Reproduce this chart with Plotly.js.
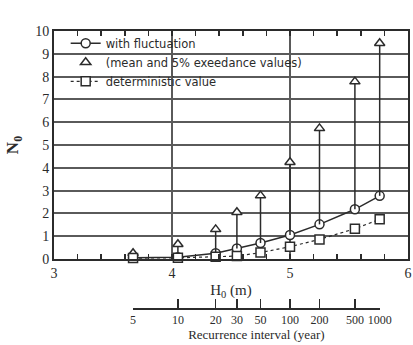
<!DOCTYPE html>
<html><head><meta charset="utf-8">
<script src="https://cdn.plot.ly/plotly-3.0.1.min.js"></script>
<style>html,body{margin:0;padding:0;background:#fff}#c{width:413px;height:345px}</style>
</head><body><div id="c"></div>
<script>
// Data
const H0 = [3.67, 4.05, 4.37, 4.55, 4.75, 5.00, 5.25, 5.55, 5.76];
const recurrence = ["5", "10", "20", "30", "50", "100", "200", "500", "1000"];
const withFluctuation = [0.06, 0.08, 0.25, 0.46, 0.70, 1.05, 1.52, 2.18, 2.77];
const exceedance5 = [0.25, 0.65, 1.30, 2.05, 2.78, 4.24, 5.73, 7.78, 9.46];
const deterministic = [0.04, 0.05, 0.10, 0.13, 0.28, 0.54, 0.86, 1.33, 1.74];
const yTicks = [0,1,2,3,4,5,6,7,8,9,10];
const xTicks = [3,4,5,6];
const xMinorTicks = [3.2,3.4,3.6,3.8,4.2,4.4,4.6,4.8,5.2,5.4,5.6,5.8];

const ink = '#2b2b2b';
const grid = '#5a5a5a';
const serif = 'Liberation Serif, Times New Roman, serif';
const sans = 'DejaVu Sans, Liberation Sans, Arial, sans-serif';

const stemMinus = exceedance5.map((v,i)=>v - withFluctuation[i]);
const xr = [3,6];
const d0 = (H0[0]-xr[0])/(xr[1]-xr[0]);
const d1 = (H0[H0.length-1]-xr[0])/(xr[1]-xr[0]);

// main axis carries major labels plus minor tick marks (blank labels)
const allXTicks = xTicks.concat(xMinorTicks);
const allXText = xTicks.map(String).concat(xMinorTicks.map(()=>''));

const traces = [
  {x:H0, y:withFluctuation, name:'with fluctuation', type:'scatter', mode:'lines+markers',
   line:{color:ink, width:1.5},
   marker:{symbol:'circle', size:9, color:'#fff', line:{color:ink, width:1.5}}, cliponaxis:false},
  {x:H0, y:exceedance5, name:'(mean and 5% exeedance values)', type:'scatter', mode:'markers',
   marker:{symbol:'triangle-up', size:9, color:'#fff', line:{color:ink, width:1.5}},
   error_y:{type:'data', symmetric:false, array:H0.map(()=>0), arrayminus:stemMinus, width:0, thickness:1.5, color:ink},
   cliponaxis:false},
  {x:H0, y:deterministic, name:'deterministic value', type:'scatter', mode:'lines+markers',
   line:{color:ink, width:1.2, dash:'3px,3px'},
   marker:{symbol:'square', size:9, color:'#fff', line:{color:ink, width:1.5}}, cliponaxis:false},
  // carrier for recurrence-interval axis (invisible)
  {x:[H0[0], H0[H0.length-1]], y:[0,0], xaxis:'x2', yaxis:'y2', mode:'markers', marker:{opacity:0}, showlegend:false, hoverinfo:'skip'},
  // carrier for the vertical-grid axis (invisible)
  {x:xr, y:[0,0], xaxis:'x3', yaxis:'y', mode:'markers', marker:{opacity:0}, showlegend:false, hoverinfo:'skip'}
];

const layout = {
  width:413, height:345,
  margin:{l:54, r:5, t:31, b:37},
  paper_bgcolor:'#fff', plot_bgcolor:'#fff',
  showlegend:true,
  legend:{x:0.033, y:1.008, xanchor:'left', yanchor:'top', bgcolor:'rgba(0,0,0,0)',
          font:{family:sans, size:11.5, color:ink}, tracegroupgap:0},
  xaxis:{range:xr, domain:[0,1], tickvals:allXTicks, ticktext:allXText,
         showgrid:false,
         showline:true, linecolor:ink, linewidth:2, mirror:'ticks',
         ticks:'inside', ticklen:5, tickwidth:1.5, tickcolor:ink, zeroline:false,
         tickfont:{family:serif, size:14, color:ink},
         title:{text:'H<sub>0</sub> (m)', font:{family:serif, size:15, color:ink}, standoff:5},
         automargin:false},
  xaxis3:{range:xr, overlaying:'x', anchor:'y', side:'top', showticklabels:false,
          tickvals:xTicks, ticks:'', showline:false,
          showgrid:true, gridcolor:grid, gridwidth:2, zeroline:false},
  xaxis2:{range:[H0[0], H0[H0.length-1]], domain:[d0,d1], anchor:'y2',
          side:'bottom', tickvals:H0, ticktext:recurrence,
          showline:true, linecolor:ink, linewidth:1.5, ticks:'inside', ticklen:9, tickwidth:1.5, tickcolor:ink,
          showgrid:false, zeroline:false,
          tickfont:{family:serif, size:12, color:ink},
          title:{text:'Recurrence interval (year)', font:{family:serif, size:13, color:ink}, standoff:0},
          automargin:false},
  yaxis2:{domain:[0,0.02], anchor:'x2', visible:false, range:[0,1]},
  yaxis:{range:[0,10], domain:[(308-259)/277, 1], tickvals:yTicks, ticktext:yTicks.map(String),
         showgrid:true, gridcolor:grid, gridwidth:2,
         showline:true, linecolor:ink, linewidth:2, mirror:true, ticks:'', zeroline:false,
         tickfont:{family:serif, size:14, color:ink},
         title:{text:'<b>N<sub>0</sub></b>', font:{family:serif, size:17, color:ink}, standoff:12},
         automargin:false}
};

Plotly.newPlot('c', traces, layout, {displayModeBar:false, staticPlot:true});
</script></body></html>
